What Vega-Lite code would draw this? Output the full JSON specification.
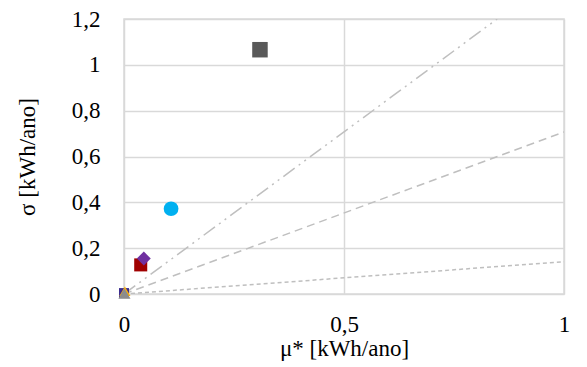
{
  "$schema": "https://vega.github.io/schema/vega-lite/v6.json",
  "width": 440,
  "height": 275,
  "autosize": {"type": "none"},
  "padding": {"left": 124, "top": 19, "right": 23, "bottom": 73},
  "config": {
    "font": "Liberation Serif",
    "view": {"stroke": "#D9D9D9", "strokeWidth": 1.5},
    "axis": {
      "grid": true,
      "gridColor": "#D9D9D9",
      "gridWidth": 1.5,
      "domain": false,
      "ticks": false,
      "labelFont": "Liberation Serif",
      "labelFontSize": 23,
      "labelColor": "#000000",
      "titleFont": "Liberation Serif",
      "titleFontSize": 23,
      "titleFontWeight": "normal",
      "titleColor": "#000000"
    }
  },
  "datasets": {
    "refs": [
      {"line": "r01", "mu": 0, "sigma": 0},
      {"line": "r01", "mu": 1, "sigma": 0.141},
      {"line": "r05", "mu": 0, "sigma": 0},
      {"line": "r05", "mu": 1, "sigma": 0.707},
      {"line": "r10", "mu": 0, "sigma": 0},
      {"line": "r10", "mu": 0.848, "sigma": 1.2}
    ],
    "pts": [
      {"param": "p1", "mu": 0.0, "sigma": 0.004},
      {"param": "p2", "mu": 0.002, "sigma": 0.012},
      {"param": "p3", "mu": 0.001, "sigma": 0.002},
      {"param": "p4", "mu": 0.038, "sigma": 0.127},
      {"param": "p5", "mu": 0.045, "sigma": 0.155},
      {"param": "p6", "mu": 0.107, "sigma": 0.372},
      {"param": "p7", "mu": 0.309, "sigma": 1.066}
    ]
  },
  "layer": [
    {
      "data": {"name": "refs"},
      "mark": {"type": "line", "color": "#BFBFBF", "strokeWidth": 1.5, "clip": true},
      "encoding": {
        "x": {"field": "mu", "type": "quantitative",
              "scale": {"domain": [0, 1], "nice": false},
              "axis": {"values": [0, 0.5, 1], "title": "μ* [kWh/ano]", "labelPadding": 19, "titlePadding": 1,
                       "labelExpr": "replace(format(datum.value, '.1~f'), '.', ',')",
                       "labelFlush": false}},
        "y": {"field": "sigma", "type": "quantitative",
              "scale": {"domain": [0, 1.2], "nice": false},
              "axis": {"values": [0, 0.2, 0.4, 0.6, 0.8, 1, 1.2], "title": "σ [kWh/ano]", "labelPadding": 24, "titlePadding": 32,
                       "labelExpr": "replace(format(datum.value, '.1~f'), '.', ',')"}},
        "detail": {"field": "line"},
        "strokeDash": {"field": "line", "type": "nominal", "legend": null,
                       "scale": {"domain": ["r01", "r05", "r10"],
                                 "range": [[4, 3], [8, 5], [14, 5, 2, 5, 2, 5]]}}
      }
    },
    {
      "data": {"name": "pts"},
      "mark": {"type": "point", "filled": true, "opacity": 1, "clip": false},
      "encoding": {
        "x": {"field": "mu", "type": "quantitative"},
        "y": {"field": "sigma", "type": "quantitative"},
        "shape": {"field": "param", "type": "nominal", "legend": null,
                  "scale": {"domain": ["p1", "p2", "p3", "p4", "p5", "p6", "p7"],
                            "range": ["square", "triangle-up", "triangle-up", "square", "diamond", "circle", "square"]}},
        "color": {"field": "param", "type": "nominal", "legend": null,
                  "scale": {"domain": ["p1", "p2", "p3", "p4", "p5", "p6", "p7"],
                            "range": ["#3B2C8F", "#FFB000", "#8C8C8C", "#A00000", "#7030A0", "#00B0F0", "#595959"]}},
        "size": {"field": "param", "type": "nominal", "legend": null,
                 "scale": {"domain": ["p1", "p2", "p3", "p4", "p5", "p6", "p7"],
                           "range": [100, 240, 170, 180, 300, 175, 190]}}
      }
    }
  ]
}
